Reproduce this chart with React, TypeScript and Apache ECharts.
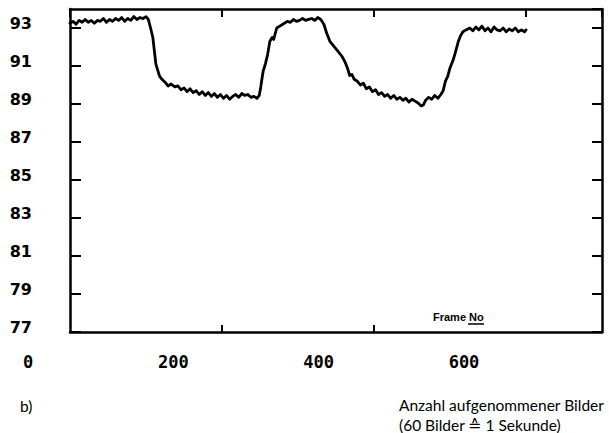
import React, { useEffect, useRef } from "react";
import * as echarts from "echarts";

// Frame number (60 frames = 1 second) and measured level
const frameNo = [
  0, 4, 8, 12, 16, 20, 24, 28, 32, 36, 40, 44, 48, 52, 56, 60, 64, 68, 72, 76, 80, 84, 88, 92, 96, 100, 103,
  106, 109, 111, 113, 116, 118, 121, 125, 129, 133, 138, 142, 146, 150, 154, 158, 162, 166, 170, 174, 178, 182,
  186, 190, 194, 198, 202, 206, 210, 214, 218, 222, 226, 230, 234, 238, 242, 246, 249,
  251, 254, 257, 260, 263, 266, 268, 272, 276, 280, 286, 290, 294, 298, 302, 306, 310, 314, 318, 322, 326, 330,
  334, 338, 342, 346, 350, 354, 358, 362, 365, 368, 371, 374, 378, 382, 386, 390, 394, 398, 402, 406, 410, 414,
  418, 422, 426, 430, 434, 438, 442, 446, 450, 454, 458, 462, 465, 468, 472, 476, 480, 484, 488,
  491, 494, 497, 500, 504, 507, 511, 514, 517, 521, 526, 530, 534, 538, 542, 546, 550, 554, 558, 562, 566, 570,
  574, 578, 582, 586, 590, 594, 598, 600,
];
const level = [
  93.25, 93.35, 93.2, 93.4, 93.3, 93.45, 93.3, 93.4, 93.25, 93.4, 93.35, 93.5, 93.3, 93.45, 93.35, 93.5, 93.4, 93.55, 93.35, 93.5, 93.4, 93.6, 93.45, 93.55, 93.5, 93.6, 93.45,
  93.0, 92.5, 91.8, 91.1, 90.7, 90.45, 90.3, 90.15, 89.95, 90.05, 89.9, 89.95, 89.75, 89.85, 89.65, 89.8, 89.6, 89.7, 89.5, 89.65, 89.45, 89.6,
  89.4, 89.55, 89.35, 89.5, 89.3, 89.45, 89.25, 89.4, 89.5, 89.35, 89.55, 89.45, 89.5, 89.35, 89.4, 89.3, 89.45,
  89.9, 90.7, 91.1, 91.6, 92.3, 92.5, 92.4, 93.0, 93.1, 93.2, 93.35, 93.3, 93.45, 93.35, 93.4, 93.5, 93.4, 93.45, 93.5, 93.4, 93.55, 93.45,
  93.2, 92.7, 92.3, 92.1, 91.9, 91.7, 91.5, 91.2, 90.9, 90.5, 90.55, 90.3, 90.2, 90.0, 90.1, 89.8, 89.9, 89.65, 89.75, 89.5, 89.6, 89.4,
  89.5, 89.3, 89.45, 89.25, 89.35, 89.2, 89.3, 89.1, 89.25, 89.15, 89.05, 88.9, 88.95, 89.2, 89.35, 89.25, 89.45, 89.3, 89.5,
  89.7, 90.2, 90.45, 90.9, 91.3, 91.7, 92.3, 92.6, 92.8, 92.9, 93.0, 92.85, 93.05, 92.9, 93.1, 92.85, 93.0, 92.8, 93.05, 92.9, 92.85, 93.0,
  92.8, 92.95, 92.85, 93.0, 92.8, 92.9, 92.8, 92.9,
];
const xTickLabels = [0, 200, 400, 600];
const yTickLabels = [77, 79, 81, 83, 85, 87, 89, 91, 93];
const frameTicksBottom = [200, 400];
const axisTitle = "Frame No";
const captionLetter = "b)";
const captionLine1 = "Anzahl aufgenommener Bilder";
const captionLine2 = "(60 Bilder ≙ 1 Sekunde)";

export default function App() {
  const ref = useRef<HTMLDivElement>(null);
  useEffect(() => {
    if (!ref.current) return;
    const chart = echarts.init(ref.current, undefined, { renderer: "svg" });
    const data = frameNo.map((f, i) => [f, level[i]]);
    const yMin = yTickLabels[0];
    const yMax = 94;
    const tickStyle = { color: "#000", width: 2 };
    const frameLine = { show: true, onZero: false, lineStyle: { color: "#000", width: 2.5 } };
    chart.setOption({
      animation: false,
      backgroundColor: "#ffffff",
      grid: [
        { left: 70, right: 7, top: 9, bottom: 101, show: false },
        { left: 28, width: 436, top: 331, height: 1, show: false },
      ],
      xAxis: [
        {
          gridIndex: 0, type: "value", min: 0, max: 700, position: "bottom",
          axisLine: frameLine, splitLine: { show: false },
          axisLabel: { show: false },
          axisTick: { show: true, inside: true, length: 7, customValues: frameTicksBottom, lineStyle: tickStyle },
        },
        {
          gridIndex: 0, type: "value", min: 0, max: 700, interval: 200, position: "top",
          axisLine: frameLine, splitLine: { show: false },
          axisLabel: { show: false },
          axisTick: { show: true, inside: true, length: 8, lineStyle: tickStyle },
        },
        {
          gridIndex: 1, type: "value", min: xTickLabels[0], max: xTickLabels[xTickLabels.length - 1], interval: 200, position: "bottom",
          axisLine: { show: false, onZero: false }, axisTick: { show: false }, splitLine: { show: false },
          axisLabel: { show: true, margin: 21, color: "#000", fontFamily: "DejaVu Sans Mono", fontWeight: "bold", fontSize: 17 },
        },
      ],
      yAxis: [
        {
          gridIndex: 0, type: "value", min: yMin, max: yMax, interval: 2, position: "left",
          axisLine: frameLine, splitLine: { show: false },
          axisTick: { show: true, inside: true, length: 11, lineStyle: tickStyle },
          axisLabel: {
            show: true, showMaxLabel: false, margin: 38, color: "#000", fontFamily: "DejaVu Sans", fontWeight: "bold", fontSize: 16,
            verticalAlign: "bottom", lineHeight: 10,
          },
        },
        {
          gridIndex: 0, type: "value", min: yMin, max: yMax, interval: 2, position: "right",
          axisLine: frameLine, splitLine: { show: false },
          axisTick: { show: true, inside: true, length: 10, lineStyle: tickStyle },
          axisLabel: { show: false },
        },
        { gridIndex: 1, type: "value", show: false, min: 0, max: 1 },
      ],
      series: [
        {
          type: "line", xAxisIndex: 0, yAxisIndex: 0, data, showSymbol: false, symbol: "none",
          lineStyle: { color: "#000", width: 2.8, join: "round", cap: "round" },
        },
      ],
      graphic: [
        { type: "text", left: 433, top: 311, style: { text: axisTitle, fill: "#000", font: "bold 11px 'Liberation Sans'" } },
        { type: "line", shape: { x1: 468, y1: 324, x2: 484, y2: 324 }, style: { stroke: "#000", lineWidth: 1.5 } },
        { type: "text", left: 20, top: 398, style: { text: captionLetter, fill: "#000", font: "15.5px Lato" } },
        { type: "text", left: 399, top: 397, style: { text: captionLine1, fill: "#000", font: "15.5px Lato" } },
        { type: "text", left: 399, top: 417, style: { text: captionLine2, fill: "#000", font: "15.5px Lato" } },
      ],
    });
    return () => chart.dispose();
  }, []);
  return <div ref={ref} style={{ width: 609, height: 433, position: "absolute", left: 0, top: 0 }} />;
}
